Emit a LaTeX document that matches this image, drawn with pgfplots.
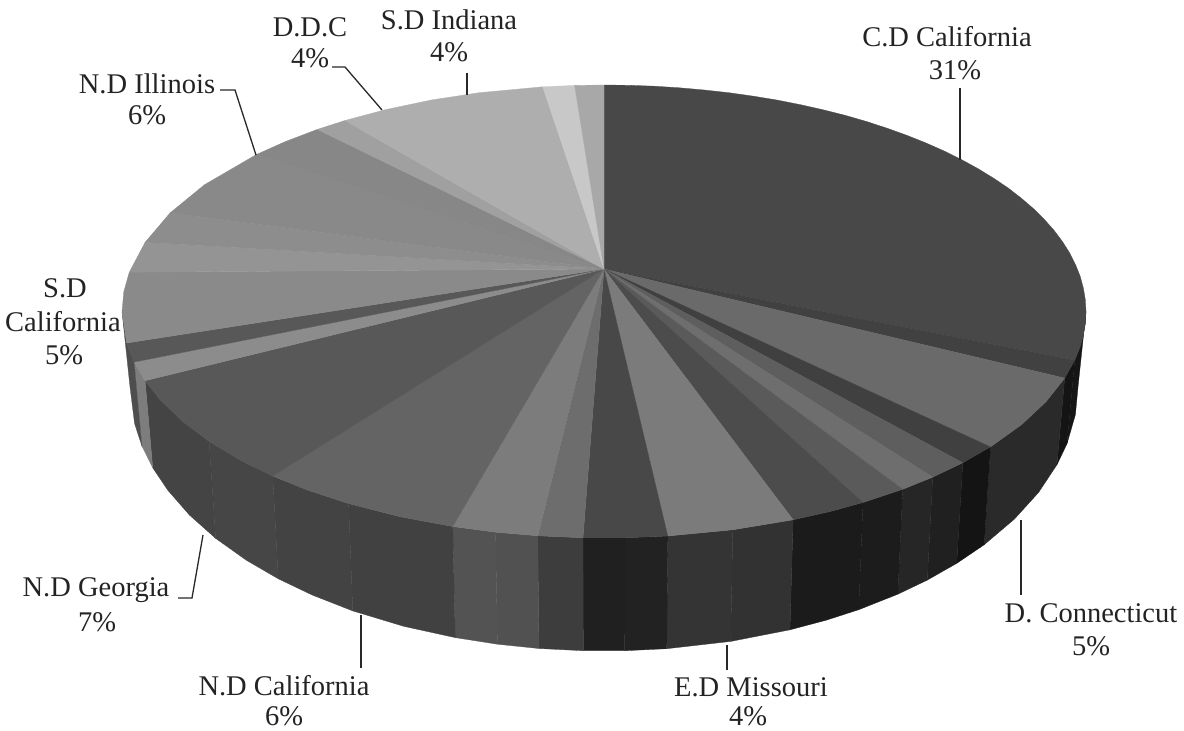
\documentclass[border=0pt]{standalone}
\usepackage{pgfplots}
\pgfplotsset{compat=1.18}
\usepackage{fontspec}
\setmainfont{Liberation Serif}
\pgfplotsset{
  g/.style={fill={rgb,255:red,#1;green,#1;blue,#1},draw={rgb,255:red,#1;green,#1;blue,#1},line width=0.3pt,mark=none,forget plot},
  lead/.style={draw={rgb,255:red,40;green,40;blue,40},line width=1.3pt,mark=none,forget plot}
}
\newcommand{\lab}[3]{\node[font=\fontsize{28.5}{28.5}\selectfont,text={rgb,255:red,35;green,35;blue,35},inner sep=0pt] at (axis cs:#1,#2) {#3};}
\begin{document}
\begin{tikzpicture}
\begin{axis}[
  scale only axis, width=1184pt, height=731pt,
  xmin=0, xmax=1184, ymin=0, ymax=731, y dir=reverse,
  hide axis, clip=false
]
% corners of the drawing area
\node[inner sep=0pt,minimum size=0pt] at (axis cs:0,0) {};
\node[inner sep=0pt,minimum size=0pt] at (axis cs:1184,731) {};
% side wall of the pie, front half
\addplot[g=22] coordinates {(1086,311.5)(1085.3,323.3)(1083.3,335.2)(1080.1,346.9)(1074.8,360.1)(1067.0,443.7)(1075.4,414.6)(1078,387)} -- cycle;
\addplot[g=20] coordinates {(1074.8,360.1)(1064.7,378.1)(1057.0,464.6)(1067.0,443.7)} -- cycle;
\addplot[g=42] coordinates {(1064.7,378.1)(1046.0,401.8)(1021.4,424.8)(990.5,446.9)(984.1,544.8)(1014.5,519.0)(1038.7,492.3)(1057.0,464.6)} -- cycle;
\addplot[g=20] coordinates {(990.5,446.9)(962.8,462.8)(956.8,563.3)(984.1,544.8)} -- cycle;
\addplot[g=32] coordinates {(962.8,462.8)(932.7,477.2)(927.3,580.1)(956.8,563.3)} -- cycle;
\addplot[g=38] coordinates {(932.7,477.2)(902.7,489.3)(897.8,594.2)(927.3,580.1)} -- cycle;
\addplot[g=28] coordinates {(902.7,489.3)(863.0,502.5)(858.7,609.7)(897.8,594.2)} -- cycle;
\addplot[g=27] coordinates {(863.0,502.5)(830.3,511.5)(793.1,519.8)(790.0,629.8)(826.5,620.1)(858.7,609.7)} -- cycle;
\addplot[g=50] coordinates {(793.1,519.8)(732.8,529.8)(730.7,641.4)(790.0,629.8)} -- cycle;
\addplot[g=52] coordinates {(732.8,529.8)(667.8,536.0)(666.7,648.7)(730.7,641.4)} -- cycle;
\addplot[g=34] coordinates {(667.8,536.0)(625.0,537.8)(624.7,650.7)(666.7,648.7)} -- cycle;
\addplot[g=32] coordinates {(625.0,537.8)(583.0,537.8)(583.3,650.7)(624.7,650.7)} -- cycle;
\addplot[g=61] coordinates {(583.0,537.8)(537.8,535.8)(538.9,648.5)(583.3,650.7)} -- cycle;
\addplot[g=81] coordinates {(537.8,535.8)(495.6,532.2)(497.4,644.2)(538.9,648.5)} -- cycle;
\addplot[g=83] coordinates {(495.6,532.2)(452.7,526.5)(455.2,637.6)(497.4,644.2)} -- cycle;
\addplot[g=65] coordinates {(452.7,526.5)(400.3,516.8)(348.6,503.6)(352.8,610.9)(403.7,626.3)(455.2,637.6)} -- cycle;
\addplot[g=67] coordinates {(348.6,503.6)(307.2,490.0)(272.8,476.1)(278.3,578.8)(312.2,595.0)(352.8,610.9)} -- cycle;
\addplot[g=70] coordinates {(272.8,476.1)(240.2,460.1)(209.1,441.4)(215.7,538.4)(246.3,560.2)(278.3,578.8)} -- cycle;
\addplot[g=68] coordinates {(209.1,441.4)(182.4,421.3)(160.3,400.0)(145.1,380.7)(152.7,467.7)(167.7,490.1)(189.4,515.0)(215.7,538.4)} -- cycle;
\addplot[g=125] coordinates {(145.1,380.7)(134.1,362.1)(141.9,446.0)(152.7,467.7)} -- cycle;
\addplot[g=78] coordinates {(134.1,362.1)(126.7,343.0)(122,311.5)(130,387)(134.6,423.7)(141.9,446.0)} -- cycle;
% top surface of the pie, slices running clockwise from twelve o'clock
\addplot[g=72] coordinates {(604,269)(604,85)(629.2,85.3)(654.4,86.2)(679.4,87.8)(704.2,90.0)(728.7,92.7)(752.9,96.1)(776.7,100.0)(800.0,104.6)(822.8,109.7)(845,115.3)(866.5,121.5)(887.3,128.3)(907.3,135.5)(926.5,143.2)(944.8,151.3)(962.2,160.0)(978.6,169.0)(993.9,178.4)(1008.3,188.1)(1021.4,198.3)(1033.5,208.7)(1044.3,219.4)(1054.0,230.3)(1062.4,241.5)(1069.6,252.9)(1075.4,264.4)(1080.1,276.1)(1083.3,287.8)(1085.3,299.7)(1086,311.5)(1085.3,323.3)(1083.3,335.2)(1080.1,346.9)(1074.8,360.1)} -- cycle;
\addplot[g=65] coordinates {(604,269)(1074.8,360.1)(1064.7,378.1)} -- cycle;
\addplot[g=106] coordinates {(604,269)(1064.7,378.1)(1046.0,401.8)(1021.4,424.8)(990.5,446.9)} -- cycle;
\addplot[g=64] coordinates {(604,269)(990.5,446.9)(962.8,462.8)} -- cycle;
\addplot[g=94] coordinates {(604,269)(962.8,462.8)(932.7,477.2)} -- cycle;
\addplot[g=110] coordinates {(604,269)(932.7,477.2)(902.7,489.3)} -- cycle;
\addplot[g=90] coordinates {(604,269)(902.7,489.3)(863.0,502.5)} -- cycle;
\addplot[g=76] coordinates {(604,269)(863.0,502.5)(830.3,511.5)(793.1,519.8)} -- cycle;
\addplot[g=123] coordinates {(604,269)(793.1,519.8)(732.8,529.8)(667.8,536.0)} -- cycle;
\addplot[g=72] coordinates {(604,269)(667.8,536.0)(625.0,537.8)(583.0,537.8)} -- cycle;
\addplot[g=109] coordinates {(604,269)(583.0,537.8)(537.8,535.8)} -- cycle;
\addplot[g=124] coordinates {(604,269)(537.8,535.8)(495.6,532.2)(452.7,526.5)} -- cycle;
\addplot[g=100] coordinates {(604,269)(452.7,526.5)(400.3,516.8)(348.6,503.6)(307.2,490.0)(272.8,476.1)} -- cycle;
\addplot[g=88] coordinates {(604,269)(272.8,476.1)(240.2,460.1)(209.1,441.4)(182.4,421.3)(160.3,400.0)(145.1,380.7)} -- cycle;
\addplot[g=140] coordinates {(604,269)(145.1,380.7)(134.1,362.1)} -- cycle;
\addplot[g=88] coordinates {(604,269)(134.1,362.1)(126.7,343.0)} -- cycle;
\addplot[g=138] coordinates {(604,269)(126.7,343.0)(122,311.5)(123.8,291.7)(129.3,272.2)} -- cycle;
\addplot[g=148] coordinates {(604,269)(129.3,272.2)(145.1,242.3)} -- cycle;
\addplot[g=141] coordinates {(604,269)(145.1,242.3)(170.1,212.9)} -- cycle;
\addplot[g=137] coordinates {(604,269)(170.1,212.9)(204.4,184.8)(256.1,154.7)} -- cycle;
\addplot[g=135] coordinates {(604,269)(256.1,154.7)(284.6,141.9)(317.3,129.4)} -- cycle;
\addplot[g=160] coordinates {(604,269)(317.3,129.4)(345.0,120.5)} -- cycle;
\addplot[g=174] coordinates {(604,269)(345.0,120.5)(385.2,109.7)(431.3,100.0)(479.3,92.7)(542.7,86.8)} -- cycle;
\addplot[g=200] coordinates {(604,269)(542.7,86.8)(574.6,85.4)} -- cycle;
\addplot[g=168] coordinates {(604,269)(574.6,85.4)(604,85)} -- cycle;
% leader lines from the slices to their labels
\addplot[lead] coordinates {(960,88)(960,160)};
\addplot[lead] coordinates {(1021,520)(1021,595)};
\addplot[lead] coordinates {(727,645)(727,670)};
\addplot[lead] coordinates {(361,615)(361,668)};
\addplot[lead] coordinates {(203,535)(192,598)(178,598)};
\addplot[lead] coordinates {(220,90)(235,90)(256,155)};
\addplot[lead] coordinates {(332,67)(345,67)(382,110)};
\addplot[lead] coordinates {(467,73)(467,95)};
% labels
\lab{947}{37}{C.D California}
\lab{955}{70}{31\%}
\lab{1091}{613}{D. Connecticut}
\lab{1091}{646}{5\%}
\lab{751}{687}{E.D Missouri}
\lab{748}{716}{4\%}
\lab{284}{686}{N.D California}
\lab{284}{716}{6\%}
\lab{96}{590}{N.D Georgia}
\lab{97}{622}{7\%}
\lab{147}{84}{N.D Illinois}
\lab{147}{115}{6\%}
\lab{310}{27}{D.D.C}
\lab{310}{58}{4\%}
\lab{449}{20}{S.D Indiana}
\lab{449}{52}{4\%}
\lab{65}{288}{S.D}
\lab{63}{322}{California}
\lab{64}{355}{5\%}
\end{axis}
\end{tikzpicture}
\end{document}
